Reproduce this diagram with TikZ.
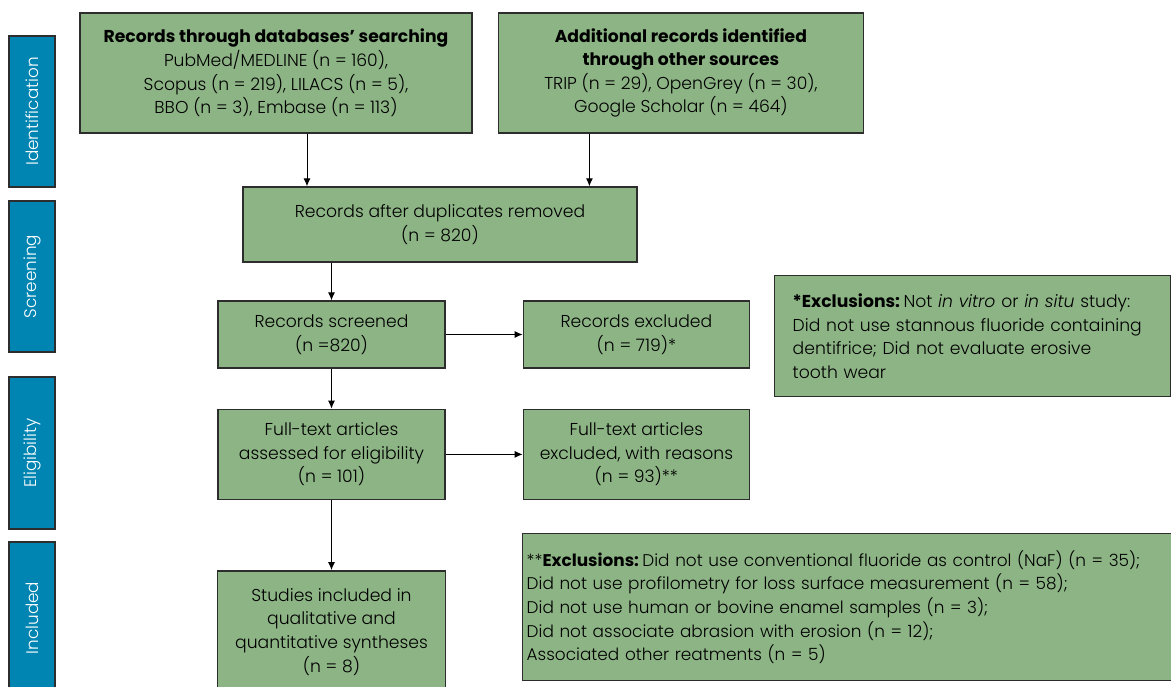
\documentclass[tikz,border=0pt]{standalone}
\usepackage{fontspec}
\setmainfont{Poppins}[UprightFont=* Light, BoldFont=* Bold,
  ItalicFont=* Light Italic, BoldItalicFont=* Bold Italic]
\usetikzlibrary{arrows.meta, positioning}
\definecolor{boxgreen}{RGB}{141,180,133}
\definecolor{phaseblue}{RGB}{0,133,178}
\definecolor{edgegray}{RGB}{45,45,45}

\begin{document}
\begin{tikzpicture}[
      x=1pt, y=1pt,
      node distance = 40pt and 77pt,
      blk/.style = {draw=edgegray, line width=1.4pt, fill=boxgreen, align=center,
                    inner sep=2pt, font=\fontsize{17.2}{23.6}\selectfont},
      note/.style = {blk, align=left, anchor=north west},
      phase/.style = {draw=edgegray, line width=1.2pt, fill=phaseblue, text=white,
                      rotate=90, minimum height=46pt, inner sep=0pt,
                      font=\fontsize{16.8}{18}\selectfont},
      >={Latex[length=8pt,width=7pt]}, line width=1pt
    ]
    \useasboundingbox (0,0) rectangle (1171,-687);
    \clip (0,0) rectangle (1171,-687);
    % fase-bjælker
    \node[phase, minimum width=151pt] (idf) at (32,-111.5) {Identification};
    \node[phase, minimum width=151pt] (scn) at (32,-276.5) {Screening};
    \node[phase, minimum width=152pt] (elg) at (32,-453)   {Eligibility};
    \node[phase, minimum width=152pt] (inc) at (32,-618)   {Included};
    % identifikation
    \node[blk, minimum width=392pt, minimum height=120pt] (db) at (276,-73)
      {\textbf{Records through databases’ searching}\\PubMed/MEDLINE (n = 160),\\
       Scopus (n = 219), LILACS (n = 5),\\BBO (n = 3), Embase (n = 113)};
    \node[blk, right=25pt of db, minimum width=365pt, minimum height=120pt] (oth)
      {\textbf{Additional records identified}\\\textbf{through other sources}\\
       TRIP (n = 29), OpenGrey (n = 30),\\Google Scholar (n = 464)};
    % screening
    \node[blk, minimum width=394pt, minimum height=75pt] (dup) at (440,-224.5)
      {Records after duplicates removed\\(n = 820)};
    \node[blk, minimum width=227pt, minimum height=67pt] (scr) at (331.5,-334.5)
      {Records screened\\(n =820)};
    \node[blk, right=of scr, minimum width=226pt, minimum height=67pt] (rexc)
      {Records excluded\\(n = 719)*};
    % eligibility + included
    \node[blk, below=of scr, minimum width=227pt, minimum height=90pt] (full)
      {Full-text articles\\assessed for eligibility\\(n = 101)};
    \node[blk, right=of full, minimum width=226pt, minimum height=90pt] (fexc)
      {Full-text articles\\excluded, with reasons\\(n = 93)**};
    \node[blk, below=70pt of full, minimum width=228pt, minimum height=122pt,
          anchor=north] (incl)
      {Studies included in\\qualitative and\\quantitative syntheses\\(n = 8)};
    % noter
    \node[note, text width=360pt, inner xsep=18pt, minimum height=121pt] (ex1)
      at (774,-275)
      {\textbf{*Exclusions:}\hspace{0.2em}Not \textit{in vitro} or \textit{in situ} study:\\
       Did not use stannous fluoride containing\\dentifrice; Did not evaluate erosive\\
       tooth wear};
    \node[note, text width=648pt, inner xsep=4pt, minimum height=147pt,
          font=\fontsize{16.9}{23.6}\selectfont] (ex2)
      at (522,-533)
      {**\textbf{Exclusions:}\hspace{0.2em}Did not use conventional fluoride as control (NaF) (n = 35);\\
       Did not use profilometry for loss surface measurement (n = 58);\\
       Did not use human or bovine enamel samples (n = 3);\\
       Did not associate abrasion with erosion (n = 12);\\
       Associated other reatments (n = 5)};
    % forbindelser
    \draw[->] ([xshift=31pt]db.south) -- ([xshift=31pt]db.south |- dup.north);
    \draw[->] ([xshift=-91.5pt]oth.south) -- ([xshift=-91.5pt]oth.south |- dup.north);
    \draw[->] (scr |- dup.south) -- (scr);
    \draw[->] (scr)  -- (rexc);
    \draw[->] (scr)  -- (full);
    \draw[->] (full) -- (fexc);
    \draw[->] (full) -- (incl);
  \end{tikzpicture}
\end{document}
